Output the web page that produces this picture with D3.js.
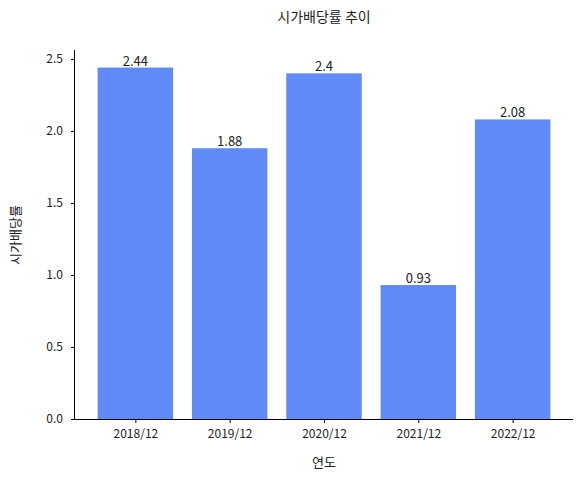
<!DOCTYPE html>
<html><head><meta charset="utf-8">
<script src="https://cdn.jsdelivr.net/npm/d3@7"></script>
<style>body{margin:0;background:#fff}text{font-family:"Noto Sans CJK KR","Noto Sans",sans-serif;fill:#222}</style>
</head><body><svg id="c" width="582" height="479"></svg>
<script>
const categories = ["2018/12","2019/12","2020/12","2021/12","2022/12"];
const values = [2.44,1.88,2.4,0.93,2.08];
const valueLabels = ["2.44","1.88","2.4","0.93","2.08"];
const yTicks = [0,0.5,1.0,1.5,2.0,2.5];
const svg = d3.select("#c");
const L=75,R=573,T=50,B=419;
const x = d3.scaleLinear().domain([-0.64,4.64]).range([L,R]);
const y = d3.scaleLinear().domain([0,2.562]).range([B,T]);
const bw = x(0.4)-x(-0.4);
svg.selectAll("rect").data(values).join("rect")
 .attr("x",(d,i)=>x(i)-bw/2).attr("width",bw)
 .attr("y",d=>y(d)).attr("height",d=>B-y(d)).attr("fill","#5f8af7");
svg.selectAll(".vl").data(values).join("text")
 .attr("x",(d,i)=>x(i)).attr("y",d=>y(d)-2).attr("text-anchor","middle")
 .attr("font-size",13).text((d,i)=>valueLabels[i]);
const ya = svg.append("g").attr("transform",`translate(${L},0)`)
 .call(d3.axisLeft(y).tickValues(yTicks).tickFormat(d3.format(".1f")).tickSize(4).tickPadding(8));
const xa = svg.append("g").attr("transform",`translate(0,${B})`)
 .call(d3.axisBottom(x).tickValues(d3.range(5)).tickFormat(i=>categories[i]).tickSize(4).tickPadding(6));
[ya,xa].forEach(a=>{a.selectAll("text").attr("font-size",12).style("fill","#222");
 a.select(".domain").attr("stroke","#000");a.selectAll(".tick line").attr("stroke","#000");});
xa.select(".domain").attr("d",`M${L},0.5H${R}`);
ya.select(".domain").attr("d",`M-0.5,${T}V${B}`);
svg.append("text").attr("x",324).attr("y",22).attr("text-anchor","middle").attr("font-size",14).text("시가배당률 추이");
svg.append("text").attr("x",324).attr("y",467).attr("text-anchor","middle").attr("font-size",13).text("연도");
svg.append("text").attr("transform","translate(20,235) rotate(-90)").attr("text-anchor","middle").attr("font-size",13).text("시가배당률");
</script></body></html>
